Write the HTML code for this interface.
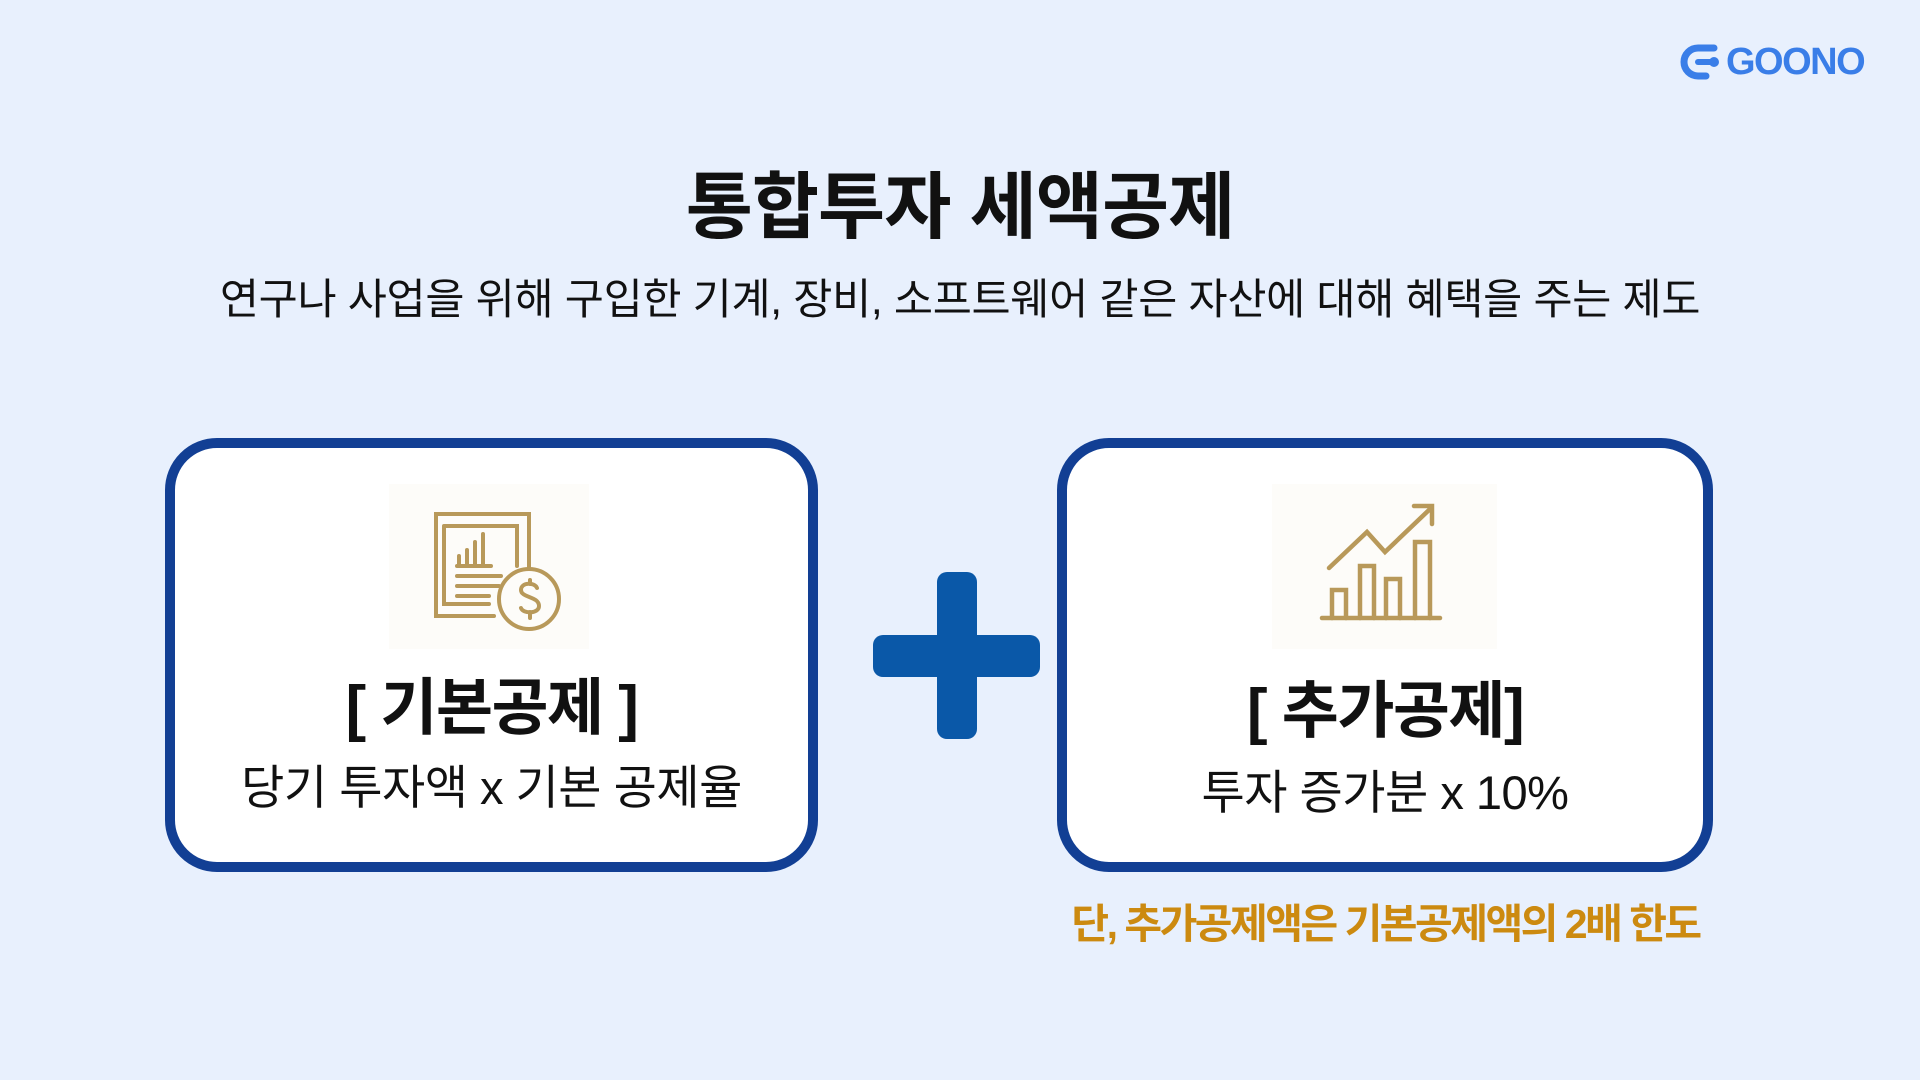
<!DOCTYPE html>
<html><head><meta charset="utf-8"><style>
*{margin:0;padding:0;box-sizing:border-box}
body{width:1920px;height:1080px;background:#e8f0fd;position:relative;overflow:hidden;font-family:"Liberation Sans","Noto Sans CJK KR",sans-serif;color:#111}
.abs{position:absolute}
.c{text-align:center;white-space:nowrap}
.box{position:absolute;top:438px;height:434px;border:10px solid #123f94;border-radius:52px;background:#fff}
.h{font-weight:700;font-size:62px;letter-spacing:-1.5px}
.s{font-size:47px;letter-spacing:-0.5px}
</style></head><body>
<div class="abs" style="left:1680px;top:40px;height:44px;display:flex;align-items:center;color:#3a7ee8;font-weight:700;font-size:38px;letter-spacing:-1.5px">
<svg width="44" height="40" viewBox="0 0 44 40"><path d="M34 6 H18 A14 14 0 0 0 18 34 H26" fill="none" stroke="#3a7ee8" stroke-width="7" stroke-linecap="round"/><path d="M18 20 H34" stroke="#3a7ee8" stroke-width="6" stroke-linecap="round"/><circle cx="34" cy="20" r="5" fill="#3a7ee8"/></svg>
<span style="margin-left:2px">GOONO</span></div>
<div class="abs c" style="left:0;width:1920px;top:148px;font-size:73px;font-weight:700;letter-spacing:-1px">통합투자 세액공제</div>
<div class="abs c" style="left:0;width:1920px;top:266px;font-size:42.5px;letter-spacing:-0.3px">연구나 사업을 위해 구입한 기계, 장비, 소프트웨어 같은 자산에 대해 혜택을 주는 제도</div>

<div class="box" style="left:165px;width:653px"></div>
<div class="box" style="left:1057px;width:656px"></div>

<svg class="abs" style="left:389px;top:484px" width="200" height="165" viewBox="0 0 200 165">
<rect x="0" y="0" width="200" height="165" fill="#fdfcf9"/>
<g fill="none" stroke="#b8995a" stroke-width="4" stroke-linecap="round">
<path d="M140 85 V30 H47 V132 H105"/>
<path d="M55 42 H128 V82 M55 42 V120 H100"/>
<path d="M70 80 V72 M78 80 V66 M86 80 V58 M94 80 V50 M68 82 H102"/>
<path d="M68 92 H112 M68 102 H110 M68 112 H100"/>
<circle cx="140" cy="115" r="30"/>
<path d="M148 104 C146 98 132 98 132 106 C132 114 150 112 150 122 C150 130 134 130 132 124 M141 96 V100 M141 128 V134"/>
</g></svg>

<svg class="abs" style="left:1272px;top:484px" width="225" height="165" viewBox="0 0 225 165">
<rect x="0" y="0" width="225" height="165" fill="#fdfcf9"/>
<g fill="none" stroke="#b8995a" stroke-width="4.5" stroke-linecap="round">
<path d="M50 134 H168"/>
<path d="M60 134 V106 H74 V134 M88 134 V82 H102 V134 M114 134 V95 H128 V134 M143 134 V58 H158 V134"/>
<path d="M57 84 L95 48 L113 68 L157 26 M142 22 H160 V40"/>
</g></svg>

<div class="abs c h" style="left:165px;width:653px;top:657px">[ 기본공제 ]</div>
<div class="abs c s" style="left:165px;width:653px;top:749px">당기 투자액 x 기본 공제율</div>
<div class="abs c h" style="left:1057px;width:656px;top:660px">[ 추가공제]</div>
<div class="abs c s" style="left:1057px;width:656px;top:754px">투자 증가분 x 10%</div>

<div class="abs" style="left:873px;top:635px;width:167px;height:42px;background:#0a58a8;border-radius:10px"></div>
<div class="abs" style="left:937px;top:572px;width:40px;height:167px;background:#0a58a8;border-radius:10px"></div>

<div class="abs c" style="left:1069px;width:633px;top:890px;font-size:41px;font-weight:700;color:#cc8a10;letter-spacing:-2.5px">단, 추가공제액은 기본공제액의 2배 한도</div>
</body></html>
